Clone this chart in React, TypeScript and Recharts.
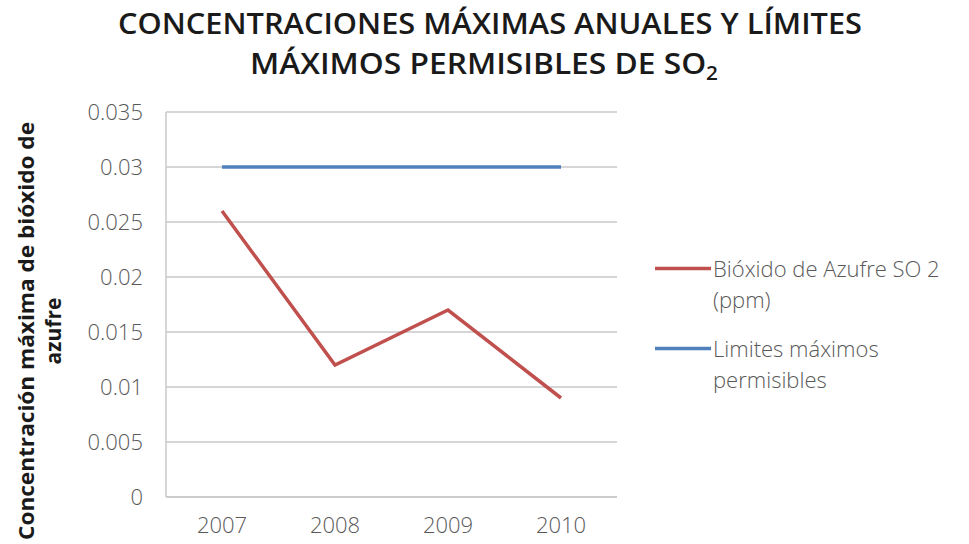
import { LineChart, Line, XAxis, YAxis, CartesianGrid, Legend } from "recharts"

const years = ["2007", "2008", "2009", "2010"]
const so2 = [0.026, 0.012, 0.017, 0.009]
const limites = [0.03, 0.03, 0.03, 0.03]
const yTicks = [0, 0.005, 0.01, 0.015, 0.02, 0.025, 0.03, 0.035]

const legendLines: Record<string, string[]> = {
  so2: ["Bióxido de Azufre SO 2", "(ppm)"],
  limites: ["Limites máximos", "permisibles"],
}

const data = years.map((year, i) => ({ year, so2: so2[i], limites: limites[i] }))

const FONT = "'Open Sans', sans-serif"

function LegendBox(props: any) {
  const items = props.payload || []
  return (
    <div style={{ fontFamily: FONT, fontSize: 22, fontWeight: 300, color: "#595959" }}>
      {items.map((it: any) => (
        <div key={it.dataKey} style={{ display: "flex", alignItems: "flex-start", marginBottom: 18 }}>
          <svg width={58} height={31} style={{ flex: "none" }}>
            <line x1={0} y1={15.5} x2={56} y2={15.5} stroke={it.color} strokeWidth={3.5} />
          </svg>
          <div style={{ lineHeight: "31px" }}>
            {(legendLines[it.dataKey] || [it.value]).map((l) => (
              <div key={l}>{l}</div>
            ))}
          </div>
        </div>
      ))}
    </div>
  )
}

export default function App() {
  return (
    <div style={{ position: "absolute", left: 0, top: 0, width: 969, height: 544, background: "#fff" }}>
      <LineChart
        width={969}
        height={544}
        data={data}
        margin={{ top: 112, right: 352, left: 0, bottom: 0 }}
      >
        <CartesianGrid vertical={false} stroke="#c8c8c8" strokeWidth={1.5} />
        <XAxis
          dataKey="year"
          height={47}
          padding={{ left: 56, right: 56 }}
          axisLine={{ stroke: "#c8c8c8", strokeWidth: 1.5 }}
          tickLine={false}
          tickMargin={14}
          tick={{ fontFamily: FONT, fontSize: 22, fontWeight: 300, fill: "#595959" }}
        />
        <YAxis
          width={166}
          domain={[0, 0.035]}
          ticks={yTicks}
          axisLine={{ stroke: "#c8c8c8", strokeWidth: 1.5 }}
          tickLine={false}
          tickMargin={17}
          tick={{ fontFamily: FONT, fontSize: 22, fontWeight: 300, fill: "#595959" }}
        />
        <Legend
          layout="vertical"
          align="center"
          verticalAlign="middle"
          wrapperStyle={{ left: 655, top: 253, width: 314 }}
          content={<LegendBox />}
        />
        <Line dataKey="so2" name="Bióxido de Azufre SO 2 (ppm)" stroke="#c0504d" strokeWidth={3.5} dot={false} isAnimationActive={false} />
        <Line dataKey="limites" name="Limites máximos permisibles" stroke="#4f81bd" strokeWidth={3.5} dot={false} isAnimationActive={false} />
      </LineChart>
      <svg width={969} height={544} style={{ position: "absolute", left: 0, top: 0, pointerEvents: "none" }}>
        <g fontFamily={FONT} fontWeight={600} fill="#1a1a1a" textAnchor="middle">
          <text x={490} y={34} fontSize={29} textLength={744} lengthAdjust="spacingAndGlyphs">
            CONCENTRACIONES MÁXIMAS ANUALES Y LÍMITES
          </text>
          <text x={484} y={74} fontSize={29} textLength={468} lengthAdjust="spacingAndGlyphs">
            MÁXIMOS PERMISIBLES DE SO<tspan fontSize={19} dy={6}>2</tspan>
          </text>
        </g>
        <g fontFamily={FONT} fontWeight={700} fill="#1a1a1a" textAnchor="middle" fontSize={21}>
          <text transform="translate(34,331) rotate(-90)" textLength={418} lengthAdjust="spacingAndGlyphs">
            Concentración máxima de bióxido de
          </text>
          <text transform="translate(61,331) rotate(-90)">azufre</text>
        </g>
      </svg>
    </div>
  )
}
